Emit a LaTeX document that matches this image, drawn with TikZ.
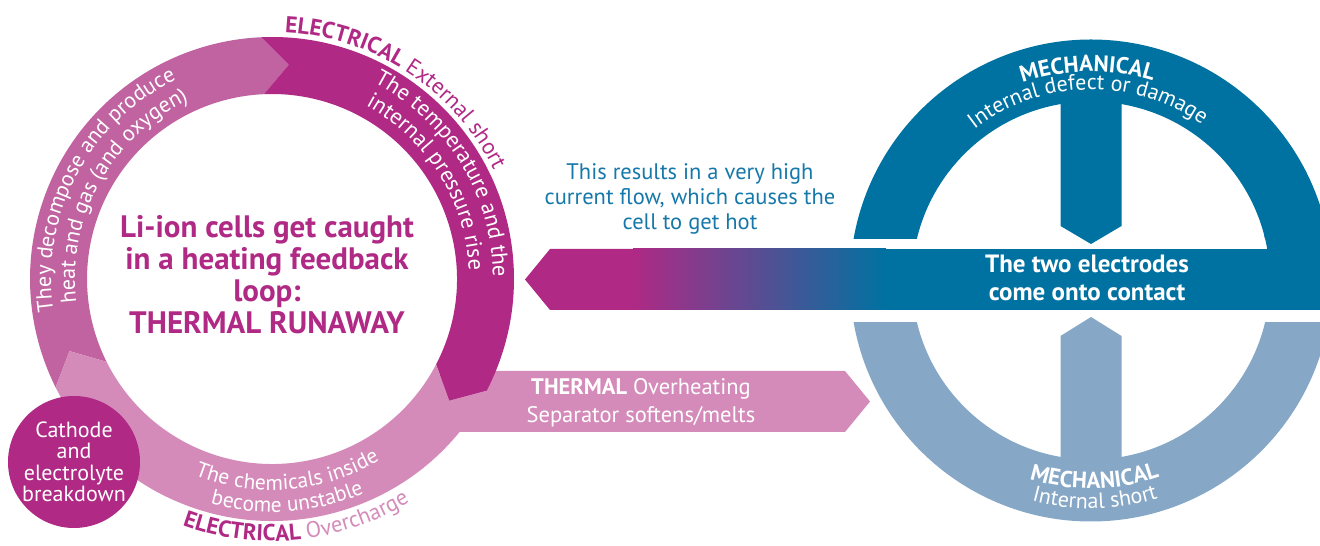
\documentclass[tikz,border=0pt]{standalone}
\usepackage{fontspec}
\setmainfont{PT Sans}
\usetikzlibrary{decorations.text}
\definecolor{mag}{RGB}{175,41,133}
\definecolor{magmid}{RGB}{192,99,160}
\definecolor{maglight}{RGB}{213,139,186}
\definecolor{bluedark}{RGB}{0,114,161}
\definecolor{bluelight}{RGB}{134,167,198}
\definecolor{bluetext}{RGB}{22,120,170}
\newcommand\ringtext[5]{\path[decorate,decoration={text along path,text align=center,text={#5}}] ([shift={(#3:#2)}]#1) arc[start angle=#3,end angle=#4,radius=#2];}
\newcommand\ringseg[3]{\fill[#1] ([shift={(#2:242)}]L) arc[start angle=#2,end angle=#3,radius=242] -- ([shift={(#3-7:215)}]L) -- ([shift={(#3:185)}]L) arc[start angle=#3,end angle=#2,radius=185] -- ([shift={(#2-7:215)}]L) -- cycle;}
\begin{document}
\begin{tikzpicture}[x=1pt,y=1pt]
\useasboundingbox (0,0) rectangle (1320,546);
\clip (0,0) rectangle (1320,546);
\coordinate (L) at (272,267);
\coordinate (R) at (1091,265.5);
% thermal band
\fill[maglight] (440,175) -- (845,175) -- (870,144.5) -- (845,114) -- (440,114) -- cycle;
% left ring
\ringseg{magmid}{206.6}{92.5}
\ringseg{mag}{92.5}{-27.5}
\ringseg{maglight}{-27.5}{-153.4}
% gradient arrow
\fill[mag] (525,266.5) -- (550,297) -- (634,297) -- (634,236) -- (550,236) -- cycle;
\shade[left color=mag,right color=bluedark] (633,236) rectangle (886,297);
\fill[bluedark] (885,236) rectangle (1320,297);
% right rings
\begin{scope}\clip (800,307.3) rectangle (1320,546);
\fill[bluedark,even odd rule] (R) circle[radius=241] (R) circle[radius=179];\end{scope}
\begin{scope}\clip (1180,290) rectangle (1320,310);
\fill[bluedark,even odd rule] (R) circle[radius=241] (R) circle[radius=179];\end{scope}
\begin{scope}\clip (800,0) rectangle (1320,223);
\fill[bluelight,even odd rule] (R) circle[radius=241] (R) circle[radius=179];\end{scope}
\fill[bluedark] (1060.5,450) -- (1060.5,320) -- (1091,302) -- (1121.5,320) -- (1121.5,450) -- cycle;
\fill[bluelight] (1060.5,80) -- (1060.5,210) -- (1091,229) -- (1121.5,210) -- (1121.5,80) -- cycle;
% cathode
\node[circle,fill=mag,minimum size=132,inner sep=0,text=white,align=center,font=\fontsize{22}{21.5}\selectfont] (cath) at (74,84) {Cathode\\and\\electrolyte\\breakdown};
% texts
\node[font=\bfseries\fontsize{31}{31.8}\selectfont,text=mag,align=center] (title) at (267,271.2) {Li-ion cells get caught\\in a heating feedback\\loop:\\THERMAL RUNAWAY};
\node[font=\fontsize{22.5}{24.7}\selectfont,text=bluetext,align=center] (res) at (690,347) {This results in a very high\\current flow, which causes the\\cell to get hot};
\node[font=\bfseries\fontsize{25}{28}\selectfont,text=white,align=center] (elec) at (1087,268.3) {The two electrodes\\come onto contact};
\node[font=\fontsize{22.5}{27.7}\selectfont,text=white,align=center] (therm) at (641,143.5) {\textbf{THERMAL} Overheating\\Separator softens/melts};
% curved texts
\path[decorate,decoration={text along path,text align=left,text={|\fontsize{23}{23}\selectfont\bfseries\color{mag}|ELECTRICAL |\fontsize{22.5}{22.5}\selectfont\mdseries\color{mag}|External short}}] ([shift={(87:247)}]L) arc[start angle=87,end angle=0,radius=247];
\ringtext{L}{221}{80}{-17}{|\fontsize{22.5}{22.5}\selectfont\color{white}|The temperature and the}
\ringtext{L}{197}{80}{-16}{|\fontsize{22.5}{22.5}\selectfont\color{white}|internal pressure rise}
\ringtext{L}{221}{247}{57}{|\fontsize{22}{22}\selectfont\color{white}|They decompose and produce}
\ringtext{L}{197}{246}{56}{|\fontsize{22}{22}\selectfont\color{white}|heat and gas (and oxygen)}
\ringtext{L}{211}{230}{319.2}{|\fontsize{21.5}{21.5}\selectfont\color{white}|The chemicals inside}
\ringtext{L}{233}{230}{318}{|\fontsize{21.5}{21.5}\selectfont\color{white}|become unstable}
\path[decorate,decoration={text along path,text align=left,text={|\fontsize{23}{23}\selectfont\bfseries\color{mag}|ELECTRICAL |\fontsize{22.5}{22.5}\selectfont\mdseries\color{maglight}|Overcharge}}] ([shift={(250:262)}]L) arc[start angle=250,end angle=330,radius=262];
\ringtext{R}{209}{150}{32}{|\fontsize{23}{23}\selectfont\bfseries\color{white}|MECHANICAL}
\ringtext{R}{191}{150}{32}{|\fontsize{22}{22}\selectfont\color{white}|Internal defect or damage}
\ringtext{R}{208}{220}{322}{|\fontsize{23}{23}\selectfont\bfseries\color{white}|MECHANICAL}
\ringtext{R}{228}{220}{322}{|\fontsize{22}{22}\selectfont\color{white}|Internal short}
\end{tikzpicture}
\end{document}
